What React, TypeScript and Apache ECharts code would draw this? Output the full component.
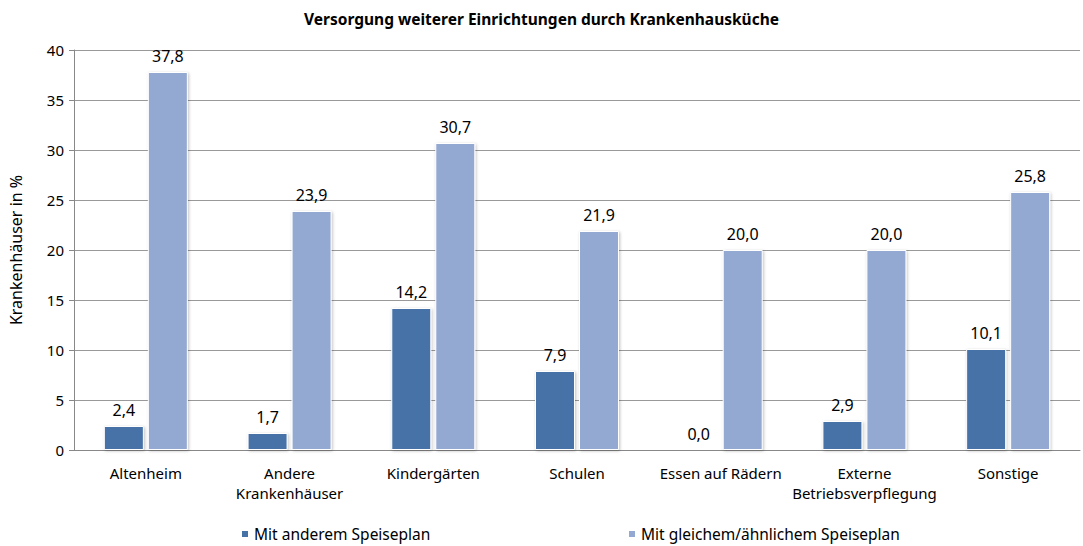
import React, { useEffect, useRef } from "react";
import * as echarts from "echarts";

const categories = ["Altenheim", "Andere\nKrankenhäuser", "Kindergärten", "Schulen", "Essen auf Rädern", "Externe\nBetriebsverpflegung", "Sonstige"];
const seriesAnders = [2.4, 1.7, 14.2, 7.9, 0.0, 2.9, 10.1];
const seriesGleich = [37.8, 23.9, 30.7, 21.9, 20.0, 20.0, 25.8];
const seriesNames = ["Mit anderem Speiseplan", "Mit gleichem/ähnlichem Speiseplan"];
const FONT = "'Noto Sans', 'Open Sans', sans-serif";

export default function App() {
  const ref = useRef<HTMLDivElement>(null);
  useEffect(() => {
    const chart = echarts.init(ref.current!, null, { renderer: "svg" });
    const fmt = (p: any) => Number(p.value).toFixed(1).replace(".", ",");
    const legendText = { fontSize: 15.5, lineHeight: 18, color: "#000", fontFamily: FONT };
    chart.setOption({
      animation: false,
      textStyle: { fontFamily: FONT },
      title: {
        text: "Versorgung weiterer Einrichtungen durch Krankenhausküche",
        left: "center",
        top: 6,
        textStyle: { fontSize: 15.5, fontWeight: "bold", color: "#000", fontFamily: FONT },
      },
      legend: [
        {
          data: [seriesNames[0]],
          left: 240,
          top: 525,
          padding: 0,
          itemWidth: 8,
          itemHeight: 8,
          icon: "rect",
          textStyle: legendText,
        },
        {
          data: [seriesNames[1]],
          left: 627,
          top: 525,
          padding: 0,
          itemWidth: 8,
          itemHeight: 8,
          icon: "rect",
          textStyle: legendText,
        },
      ],
      grid: { left: 72, right: 3, top: 50, bottom: 96, containLabel: false },
      xAxis: {
        type: "category",
        data: categories,
        axisLine: { lineStyle: { color: "#888" } },
        axisTick: { show: false },
        axisLabel: { color: "#000", fontSize: 15, margin: 13, lineHeight: 20, interval: 0, fontFamily: FONT },
      },
      yAxis: {
        type: "value",
        min: 0,
        max: 40,
        interval: 5,
        name: "Krankenhäuser in %",
        nameLocation: "middle",
        nameGap: 50,
        nameTextStyle: { fontSize: 16, color: "#000", fontFamily: FONT },
        axisLine: { show: true, lineStyle: { color: "#888" } },
        axisTick: { show: true, length: 5, lineStyle: { color: "#888" } },
        axisLabel: { color: "#000", fontSize: 15, margin: 10, fontFamily: FONT },
        splitLine: { lineStyle: { color: "#999", width: 1 } },
      },
      series: [
        {
          name: seriesNames[0],
          type: "bar",
          data: seriesAnders,
          barWidth: 40,
          barGap: "10%",
          itemStyle: { color: "#4672a8", borderColor: "#fff", borderWidth: 1, shadowColor: "rgba(0,0,0,0.25)", shadowBlur: 3, shadowOffsetX: 1, shadowOffsetY: 1 },
          label: { show: true, position: "top", distance: 8, formatter: fmt, fontSize: 16, color: "#000", fontFamily: FONT },
        },
        {
          name: seriesNames[1],
          type: "bar",
          data: seriesGleich,
          barWidth: 40,
          itemStyle: { color: "#94a9d2", borderColor: "#fff", borderWidth: 1, shadowColor: "rgba(0,0,0,0.25)", shadowBlur: 3, shadowOffsetX: 1, shadowOffsetY: 1 },
          label: { show: true, position: "top", distance: 8, formatter: fmt, fontSize: 16, color: "#000", fontFamily: FONT },
        },
      ],
    });
    return () => chart.dispose();
  }, []);
  return <div ref={ref} style={{ width: 1083, height: 546, position: "absolute", left: 0, top: 0 }} />;
}
